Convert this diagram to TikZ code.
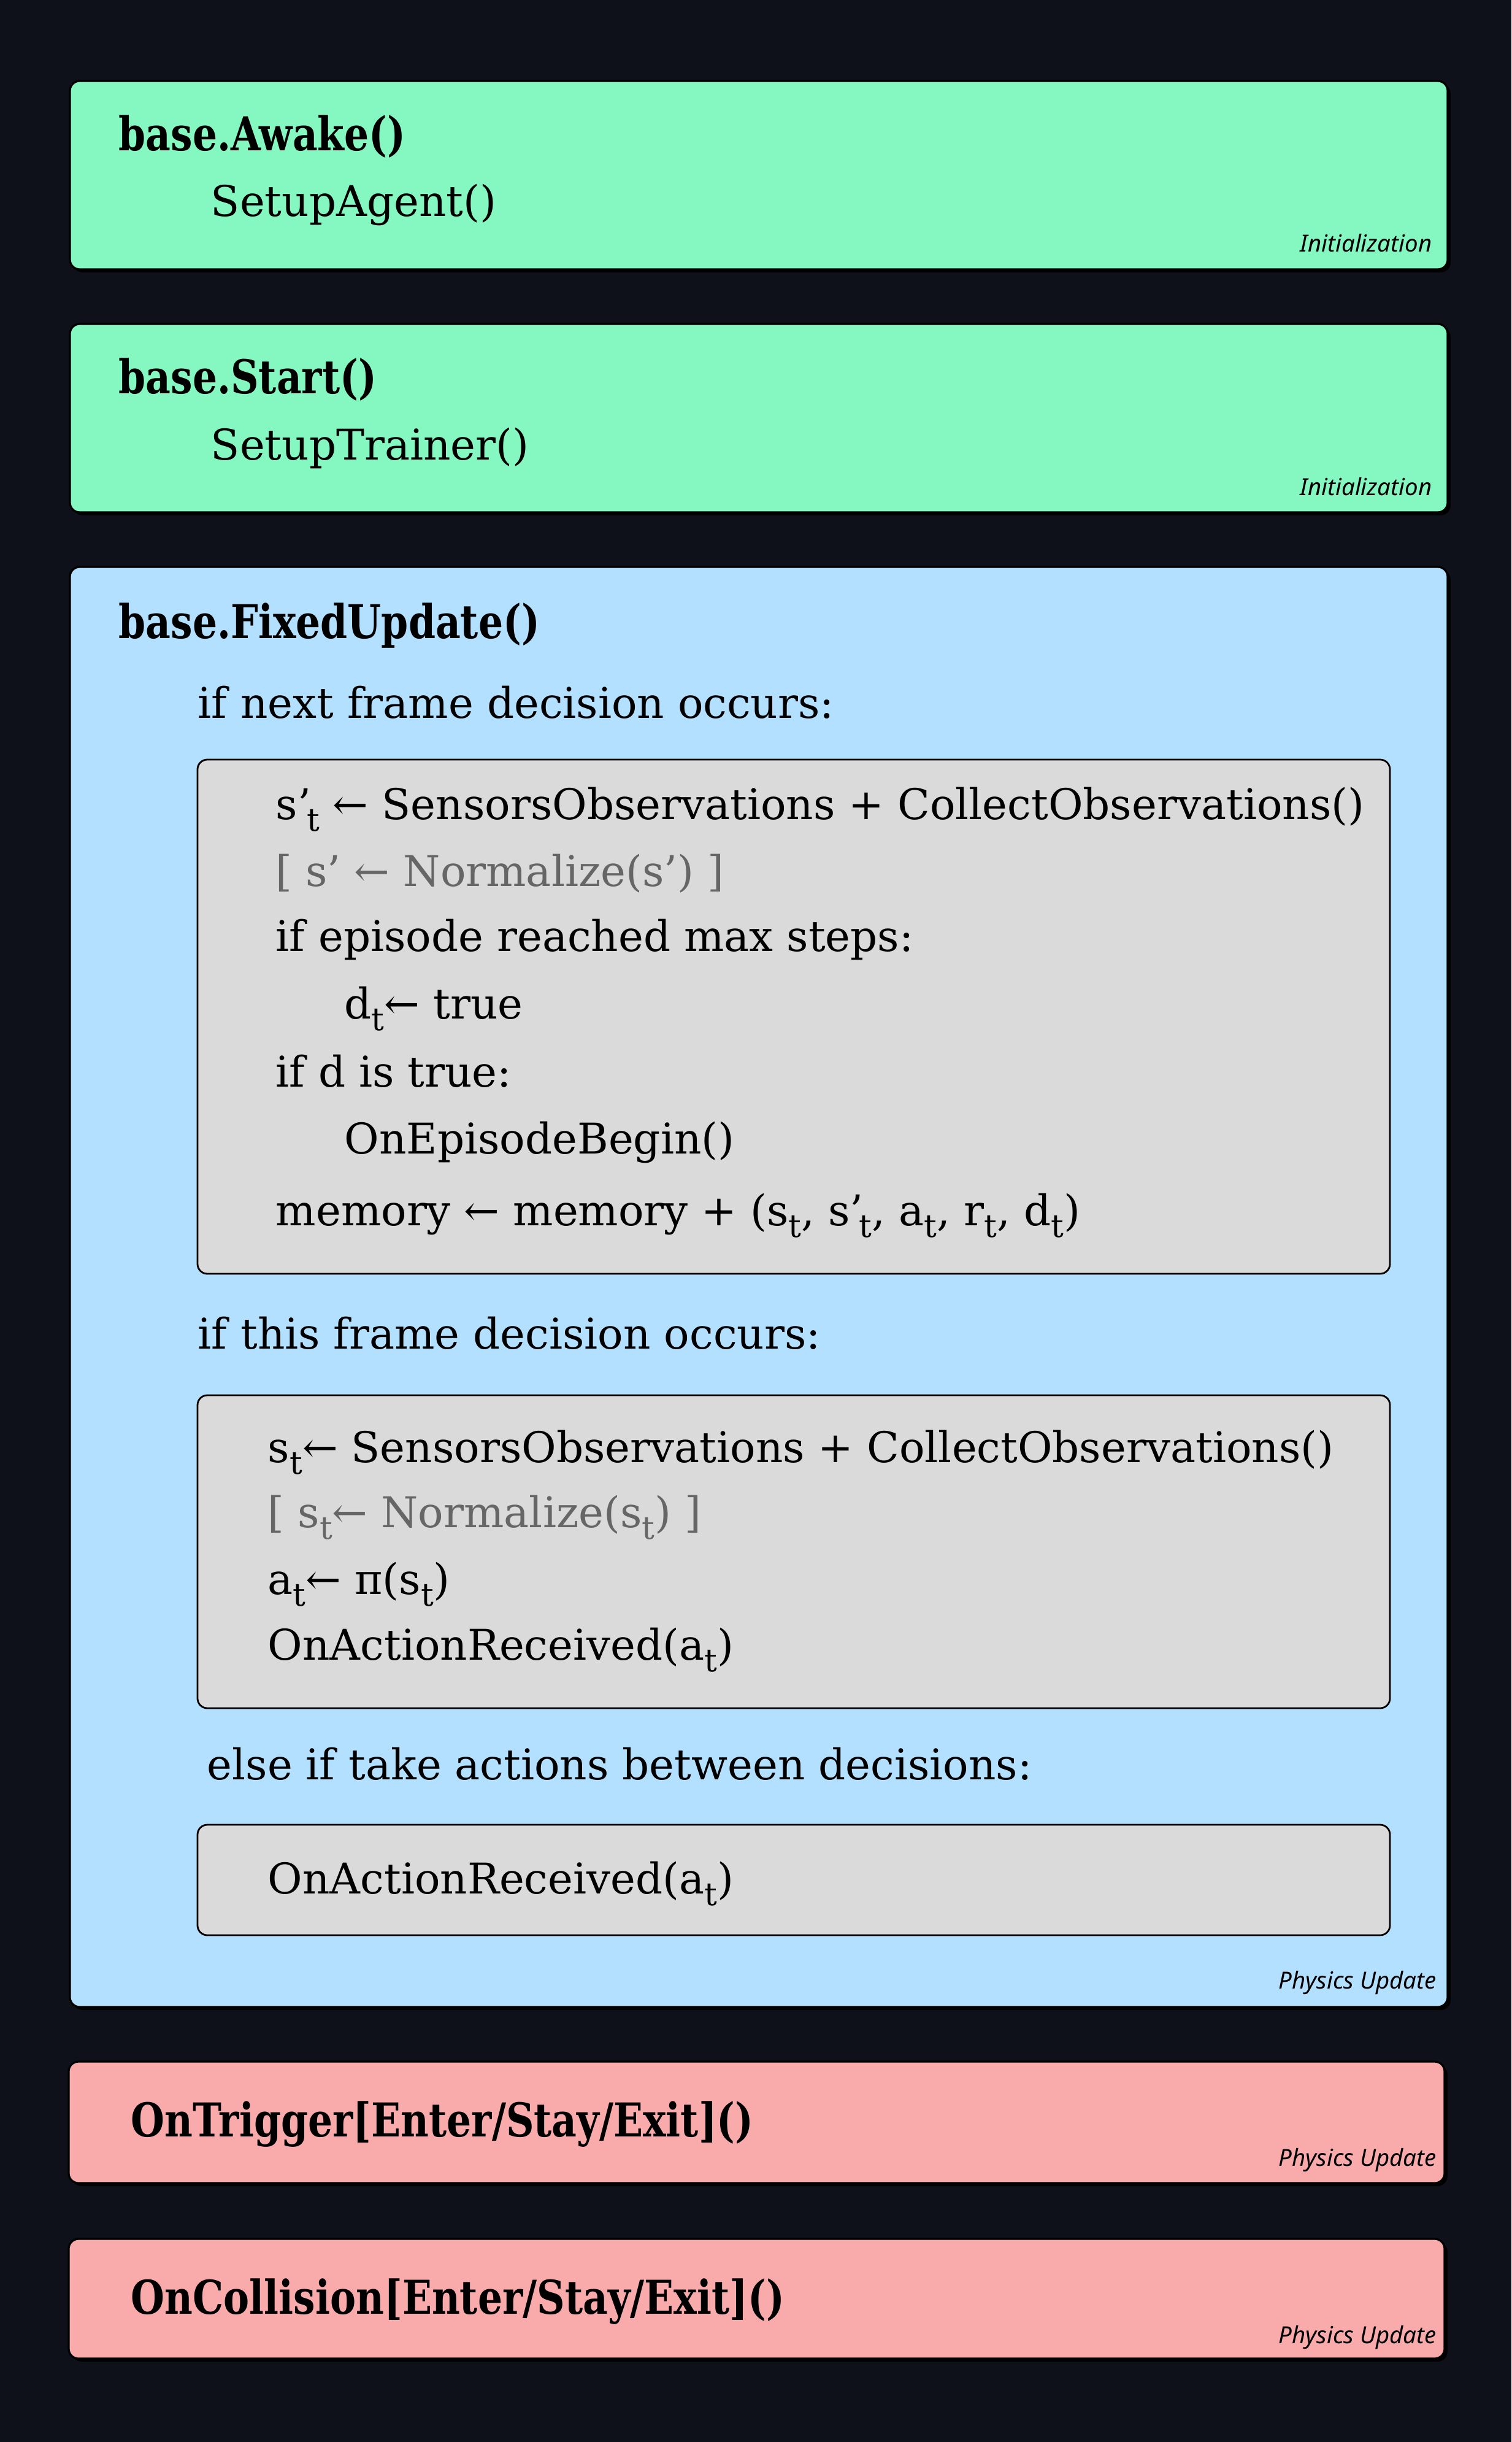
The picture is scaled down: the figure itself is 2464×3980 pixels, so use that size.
\documentclass[tikz,border=0pt]{standalone}
\usepackage{fontspec}
\usepackage{graphicx}
\usetikzlibrary{fit,shadows}
\setmainfont{DejaVu Serif}
\newfontfamily\headfont[FakeStretch=0.83]{DejaVu Serif}
\newfontfamily\labfont{Noto Sans}
\definecolor{bgcol}{HTML}{0E111A}
\definecolor{greencol}{HTML}{84F8C0}
\definecolor{bluecol}{HTML}{B3E0FF}
\definecolor{graycol}{HTML}{DADADA}
\definecolor{pinkcol}{HTML}{F9ABAB}
\definecolor{normgray}{HTML}{666666}
\newcommand\tsub[1]{\raisebox{-0.55ex}{\scalebox{0.75}{#1}}}
\newcommand\la{←}
\tikzset{
  outerbox/.style={draw=black, line width=0.8pt, rounded corners=4pt, inner sep=0pt,
    drop shadow={shadow xshift=1.2pt, shadow yshift=-1.2pt, fill=black, opacity=1}},
  innerbox/.style={draw=black, line width=0.7pt, rounded corners=4pt, inner sep=0pt, fill=graycol},
  headtxt/.style={anchor=base west, inner sep=0pt, font=\headfont\bfseries\fontsize{19pt}{22pt}\selectfont},
  bodytxt/.style={anchor=base west, inner sep=0pt, font=\fontsize{17.25pt}{20pt}\selectfont},
  labtxt/.style={anchor=base east, inner sep=0pt, font=\labfont\itshape\fontsize{9.6pt}{11pt}\selectfont}
}
\begin{document}
\begin{tikzpicture}[x=0.25pt,y=-0.25pt]
\fill[bgcol] (0,0) rectangle (2464,3980);
\useasboundingbox (0,0) rectangle (2464,3980);

% Box 1
\node[outerbox, fill=greencol, fit={(114,132) (2360,439)}] (awake) {};
\node[headtxt] (awakeh) at (193,246) {base.Awake()};
\node[bodytxt] (awakeb) at (343,353) {SetupAgent()};
\node[labtxt] (awakel) at (2335,411) {Initialization};

% Box 2
\node[outerbox, fill=greencol, fit={(114,528) (2360,835)}] (start) {};
\node[headtxt] (starth) at (193,642) {base.Start()};
\node[bodytxt] (startb) at (343,749) {SetupTrainer()};
\node[labtxt] (startl) at (2335,807) {Initialization};

% Box 3
\node[outerbox, fill=bluecol, fit={(114,924) (2360,3271)}] (fixed) {};
\node[headtxt] (fixedh) at (193,1040) {base.FixedUpdate()};
\node[bodytxt] (nextq) at (322,1170) {if next frame decision occurs:};

\node[innerbox, fit={(322,1238) (2266,2076)}] (inner1) {};
\node[bodytxt] (n1) at (449,1335) {s’\kern-0.1em\tsub{t} \la\ SensorsObservations + CollectObservations()};
\node[bodytxt, text=normgray] (n2) at (449,1444) {[ s’ \la\ Normalize(s’) ]};
\node[bodytxt] (n3) at (449,1550) {if episode reached max steps:};
\node[bodytxt] (n4) at (561,1660) {d\tsub{t}\la\ true};
\node[bodytxt] (n5) at (449,1771) {if d is true:};
\node[bodytxt] (n6) at (561,1880) {OnEpisodeBegin()};
\node[bodytxt] (n7) at (449,1997) {memory \la\ memory + (s\tsub{t}, s’\kern-0.1em\tsub{t}, a\tsub{t}, r\tsub{t}, d\tsub{t})};

\node[bodytxt] (thisq) at (322,2198) {if this frame decision occurs:};
\node[innerbox, fit={(322,2274) (2266,2784)}] (inner2) {};
\node[bodytxt] (t1) at (436,2383) {s\tsub{t}\la\ SensorsObservations + CollectObservations()};
\node[bodytxt, text=normgray] (t2) at (436,2489) {[ s\tsub{t}\la\ Normalize(s\tsub{t}) ]};
\node[bodytxt] (t3) at (436,2598) {a\tsub{t}\la\ π(s\tsub{t})};
\node[bodytxt] (t4) at (436,2705) {OnActionReceived(a\tsub{t})};

\node[bodytxt] (elseq) at (337,2900) {else if take actions between decisions:};
\node[innerbox, fit={(322,2974) (2266,3154)}] (inner3) {};
\node[bodytxt] (e1) at (436,3086) {OnActionReceived(a\tsub{t})};
\node[labtxt] (fixedl) at (2342,3241) {Physics Update};

% Box 4
\node[outerbox, fill=pinkcol, fit={(112,3360) (2355,3558)}] (trig) {};
\node[headtxt] (trigh) at (213,3482) {OnTrigger[Enter/Stay/Exit]()};
\node[labtxt] (trigl) at (2342,3530) {Physics Update};

% Box 5
\node[outerbox, fill=pinkcol, fit={(112,3649) (2355,3844)}] (coll) {};
\node[headtxt] (collh) at (213,3771) {OnCollision[Enter/Stay/Exit]()};
\node[labtxt] (colll) at (2342,3819) {Physics Update};
\end{tikzpicture}
\end{document}
